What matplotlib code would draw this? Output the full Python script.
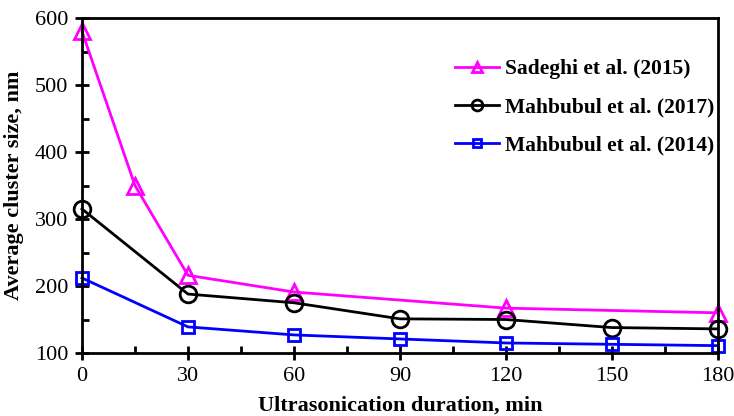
import numpy as np
import matplotlib.pyplot as plt
from matplotlib.ticker import MultipleLocator

plt.rcParams['font.family'] = ['Liberation Serif', 'DejaVu Serif']

# data
x_sadeghi = [0, 15, 30, 60, 120, 180]
y_sadeghi = [580, 350, 216, 191, 167, 160]

x_mah17 = [0, 30, 60, 90, 120, 150, 180]
y_mah17 = [315, 188, 175, 151, 150, 138, 136]

x_mah14 = [0, 30, 60, 90, 120, 150, 180]
y_mah14 = [212, 139, 127, 121, 115, 113, 111]

xticks = [0, 30, 60, 90, 120, 150, 180]
yticks = [100, 200, 300, 400, 500, 600]

fig = plt.figure(figsize=(7.34, 4.16), dpi=100)
ax = fig.add_axes([0.1117, 0.1514, 0.8663, 0.8053])

ax.plot(x_sadeghi, y_sadeghi, '-^', color='#ff00ff', lw=2, ms=12, mew=2,
        mfc='none', label='Sadeghi et al. (2015)')
ax.plot(x_mah17, y_mah17, '-o', color='black', lw=2, ms=12, mew=2,
        mfc='none', label='Mahbubul et al. (2017)')
ax.plot(x_mah14, y_mah14, '-s', color='#0000ff', lw=2, ms=9, mew=2,
        mfc='none', label='Mahbubul et al. (2014)')

ax.set_xlim(0, 180)
ax.set_ylim(100, 600)
ax.set_xticks(xticks)
ax.set_yticks(yticks)
ax.xaxis.set_minor_locator(MultipleLocator(15))
ax.yaxis.set_minor_locator(MultipleLocator(50))
ax.tick_params(which='major', direction='inout', length=10, width=2, labelsize=16, pad=5)
ax.tick_params(which='minor', direction='in', length=5, width=2)
ax.tick_params(top=False, right=False)
for s in ax.spines.values():
    s.set_linewidth(2)
for ln in ax.lines:
    ln.set_clip_on(False)

ax.set_xlabel('Ultrasonication duration, min', fontsize=16, fontweight='bold', labelpad=7)
ax.set_ylabel('Average cluster size, nm', fontsize=16, fontweight='bold', labelpad=8)

leg = ax.legend(loc='upper right', bbox_to_anchor=(1.025, 0.935), frameon=False,
                prop={'weight': 'bold', 'size': 15.5}, handlelength=2.0,
                labelspacing=0.85, handletextpad=0.3, markerscale=0.65)

plt.savefig('out.png', dpi=100)
plt.close()
